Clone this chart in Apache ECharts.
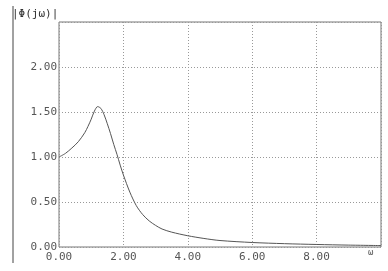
<!DOCTYPE html>
<html>
<head>
<meta charset="utf-8">
<script src="https://cdn.jsdelivr.net/npm/echarts@6/dist/echarts.min.js"></script>
<style>
  html, body { margin: 0; padding: 0; background: #fff; }
  #chart { width: 388px; height: 271px; }
</style>
</head>
<body>
<div id="chart"></div>
<script>
// 频率 ω 与幅值 |Φ(jω)|
const omega = [0, 0.2, 0.4, 0.6, 0.8, 0.9, 1.0, 1.1, 1.2, 1.3, 1.4, 1.5, 1.6, 1.7, 1.8, 1.9, 2.0,
  2.2, 2.4, 2.6, 2.8, 3.0, 3.2, 3.5, 4.0, 4.5, 5.0, 6.0, 7.0, 8.0, 9.0, 10.0]
const magnitude = [1.00, 1.04, 1.10, 1.17, 1.27, 1.34, 1.42, 1.51, 1.56, 1.54, 1.47, 1.37, 1.26, 1.14, 1.03, 0.91, 0.80,
  0.61, 0.46, 0.36, 0.29, 0.24, 0.20, 0.165, 0.125, 0.095, 0.072, 0.05, 0.037, 0.028, 0.021, 0.016]

const mChart = echarts.init(document.getElementById('chart'))
const mono = 'DejaVu Sans Mono'

const options = {
  animation: false,
  backgroundColor: '#fff',
  grid: {
    left: 59, right: 7, top: 22, bottom: 24,
    show: true,
    borderColor: '#777',
    borderWidth: 1
  },
  xAxis: {
    type: 'value',
    min: 0, max: 10, interval: 2,
    axisLine: { show: false },
    axisTick: { show: false },
    axisLabel: {
      margin: 5,
      color: '#555',
      fontFamily: mono,
      fontSize: 11,
      formatter: v => (v >= 10 ? '' : v.toFixed(2))
    },
    splitLine: { lineStyle: { color: '#999', type: [1, 2] } }
  },
  yAxis: {
    type: 'value',
    min: 0, max: 2.5, interval: 0.5,
    axisLine: { show: false },
    axisTick: { show: false },
    axisLabel: {
      margin: 2,
      color: '#555',
      fontFamily: mono,
      fontSize: 11,
      padding: [0, 0, 3, 0],
      formatter: v => (v >= 2.5 ? '' : v.toFixed(2))
    },
    splitLine: { lineStyle: { color: '#999', type: [1, 2] } }
  },
  graphic: [
    { type: 'line', shape: { x1: 13, y1: 6, x2: 13, y2: 263 }, style: { stroke: '#444', lineWidth: 1 } },
    { type: 'text', left: 12, top: 9, style: { text: '|Φ(jω)|', fill: '#333', font: '11px ' + mono } },
    { type: 'text', left: 368, top: 248, style: { text: 'ω', fill: '#555', font: '9px ' + mono } }
  ],
  series: [{
    type: 'line',
    data: omega.map((w, i) => [w, magnitude[i]]),
    smooth: 0.3,
    showSymbol: false,
    lineStyle: { color: '#555', width: 1 }
  }]
}
mChart.setOption(options)
</script>
</body>
</html>
